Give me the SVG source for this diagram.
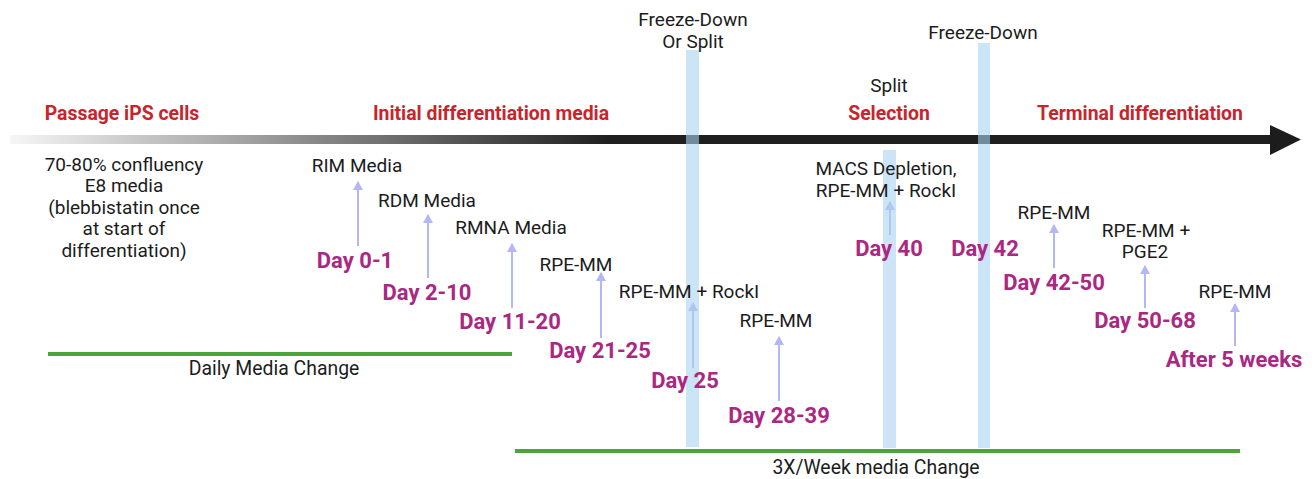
<svg xmlns="http://www.w3.org/2000/svg" width="1314" height="479" viewBox="0 0 1314 479">
  <style>
    text { font-family: Roboto, "Liberation Sans", sans-serif; text-anchor: middle; }
    .phase { font-size: 19.4px; font-weight: 700; fill: #c8242b; }
    .media { font-size: 19px; fill: #1c1c1c; }
    .day { font-size: 22px; font-weight: 700; fill: #ab2882; }
    .note { font-size: 19.4px; fill: #1c1c1c; }
    .step { stroke: #b4b6f6; stroke-width: 2; fill: none; marker-end: url(#tip); }
    .bar { fill: #a9d2f0; opacity: 0.6; }
    .change { fill: #4ba63a; }
  </style>
  <defs>
    <linearGradient id="timeline" gradientUnits="userSpaceOnUse" x1="10" y1="0" x2="610" y2="0">
      <stop offset="0" stop-color="#f6f6f6"/>
      <stop offset="1" stop-color="#1f1f1f"/>
    </linearGradient>
    <marker id="tip" viewBox="0 0 9 10" refX="8" refY="5" markerWidth="9" markerHeight="10" markerUnits="userSpaceOnUse" orient="auto">
      <path d="M0,0 L9,5 L0,10 z" fill="#b4b6f6"/>
    </marker>
  </defs>

  <rect width="1314" height="479" fill="#ffffff"/>

  <!-- main timeline -->
  <g id="timeline-arrow">
    <rect x="10" y="135" width="1262" height="9" fill="url(#timeline)"/>
    <polygon points="1270,125 1301,139.5 1270,155" fill="#1c1c1c"/>
  </g>

  <!-- phase headings -->
  <g id="phases">
    <text class="phase" x="122" y="120">Passage iPS cells</text>
    <text class="phase" x="491" y="120">Initial differentiation media</text>
    <text class="phase" x="889" y="120">Selection</text>
    <text class="phase" x="1140" y="120">Terminal differentiation</text>
  </g>

  <!-- media steps: pointer arrows -->
  <g id="connectors">
    <line class="step" x1="358" y1="246" x2="358" y2="182"/>
    <line class="step" x1="428" y1="278" x2="428" y2="215"/>
    <line class="step" x1="512" y1="308" x2="512" y2="244"/>
    <line class="step" x1="601" y1="338" x2="601" y2="273"/>
    <line class="step" x1="693" y1="368" x2="693" y2="303"/>
    <line class="step" x1="779" y1="401" x2="779" y2="337"/>
    <line class="step" x1="890" y1="235" x2="890" y2="202"/>
    <line class="step" x1="1054" y1="268" x2="1054" y2="225"/>
    <line class="step" x1="1145" y1="308" x2="1145" y2="266"/>
    <line class="step" x1="1235" y1="346" x2="1235" y2="304"/>
  </g>

  <!-- passage / freeze markers -->
  <g id="markers">
    <rect class="bar" x="686" y="50" width="13" height="397"/>
    <rect class="bar" x="883" y="150" width="13" height="298"/>
    <rect class="bar" x="978" y="43" width="12" height="405"/>
  </g>

  <g id="freeze-split">
    <text class="media" x="693" y="26">Freeze-Down</text>
    <text class="media" x="693" y="48">Or Split</text>
  </g>
  <g id="split">
    <text class="media" x="889" y="92">Split</text>
  </g>
  <g id="freeze">
    <text class="media" x="983" y="39">Freeze-Down</text>
  </g>

  <g id="passage">
    <text class="media" x="124" y="171">70-80% confluency</text>
    <text class="media" x="124" y="192">E8 media</text>
    <text class="media" x="124" y="214">(blebbistatin once</text>
    <text class="media" x="124" y="235">at start of</text>
    <text class="media" x="124" y="257">differentiation)</text>
  </g>

  <g id="day-0-1">
    <text class="media" x="357" y="172">RIM Media</text>
    <text class="day" x="355" y="268">Day 0-1</text>
  </g>
  <g id="day-2-10">
    <text class="media" x="427" y="207">RDM Media</text>
    <text class="day" x="427" y="300">Day 2-10</text>
  </g>
  <g id="day-11-20">
    <text class="media" x="511" y="234">RMNA Media</text>
    <text class="day" x="510" y="329">Day 11-20</text>
  </g>
  <g id="day-21-25">
    <text class="media" x="576" y="271">RPE-MM</text>
    <text class="day" x="600" y="358">Day 21-25</text>
  </g>
  <g id="day-25">
    <text class="media" x="689" y="298">RPE-MM + RockI</text>
    <text class="day" x="685" y="388">Day 25</text>
  </g>
  <g id="day-28-39">
    <text class="media" x="776" y="327">RPE-MM</text>
    <text class="day" x="779" y="423">Day 28-39</text>
  </g>
  <g id="day-40">
    <text class="media" x="886" y="175">MACS Depletion,</text>
    <text class="media" x="886" y="197">RPE-MM + RockI</text>
    <text class="day" x="889" y="256">Day 40</text>
  </g>
  <g id="day-42">
    <text class="day" x="985" y="256">Day 42</text>
  </g>
  <g id="day-42-50">
    <text class="media" x="1054" y="219">RPE-MM</text>
    <text class="day" x="1054" y="290">Day 42-50</text>
  </g>
  <g id="day-50-68">
    <text class="media" x="1146" y="237">RPE-MM +</text>
    <text class="media" x="1145" y="258">PGE2</text>
    <text class="day" x="1145" y="328">Day 50-68</text>
  </g>
  <g id="after-5-weeks">
    <text class="media" x="1235" y="298">RPE-MM</text>
    <text class="day" x="1234" y="367">After 5 weeks</text>
  </g>

  <!-- media change schedules -->
  <g id="daily-change">
    <rect class="change" x="48" y="352" width="464" height="4"/>
    <text class="note" x="274" y="375">Daily Media Change</text>
  </g>
  <g id="weekly-change">
    <rect class="change" x="515" y="449" width="725" height="4"/>
    <text class="note" x="876" y="474">3X/Week media Change</text>
  </g>
</svg>
